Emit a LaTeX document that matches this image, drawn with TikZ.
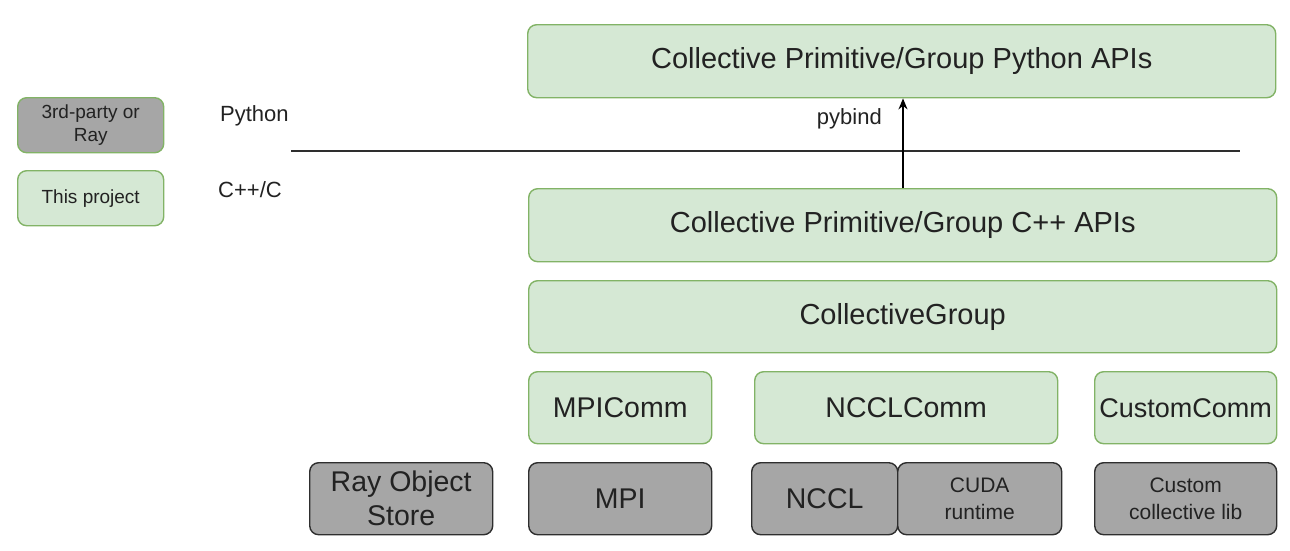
\documentclass[tikz,border=0pt]{standalone}
\usepackage{fontspec}
\setmainfont{Liberation Sans}
\usetikzlibrary{arrows.meta}
\definecolor{gfill}{HTML}{D5E8D4}
\definecolor{gdraw}{HTML}{82B366}
\definecolor{kfill}{HTML}{A6A6A6}
\definecolor{kdraw}{HTML}{2E2E2E}
\definecolor{txt}{HTML}{222222}
\tikzset{
  base/.style={rounded corners=9pt, line width=1.4pt, inner sep=0pt, align=center, text=txt, anchor=north west},
  green/.style={base, fill=gfill, draw=gdraw},
  gray/.style={base, fill=kfill, draw=kdraw},
  legend/.style={base, fill=kfill, draw=gdraw},
  big/.style={font=\fontsize{29}{34}\selectfont},
  mid/.style={font=\fontsize{28.5}{34}\selectfont},
  small/.style={font=\fontsize{21}{27}\selectfont},
  tiny/.style={font=\fontsize{19}{23}\selectfont},
  lab/.style={text=txt, inner sep=0pt, font=\fontsize{22}{26}\selectfont},
}
\begin{document}
\begin{tikzpicture}[x=1pt,y=-1pt]
\useasboundingbox (0,0) rectangle (1290,550);
% legend
\node[legend, tiny, minimum width=146pt, minimum height=55pt] (leg1) at (17,97) {3rd-party or\\Ray};
\node[green, tiny, minimum width=146pt, minimum height=55pt] (leg2) at (17,170) {This project};
\node[lab, anchor=west] (py) at (220,116) {Python};
\node[lab, anchor=west] (cc) at (218,190) {C++/C};
\coordinate (la) at (291,151);
\coordinate (lb) at (1240,151);
\draw[line width=1.4pt, kdraw] (la) -- (lb);
% layers
\node[green, big, minimum width=748pt, minimum height=73pt] (pyapi) at (527,24) {Collective Primitive/Group Python APIs};
\node[green, big, minimum width=748pt, minimum height=73pt] (cppapi) at (528,188) {Collective Primitive/Group C++ APIs};
\node[green, big, minimum width=748pt, minimum height=72pt] (cg) at (528,280) {CollectiveGroup};
\node[green, mid, minimum width=183pt, minimum height=72pt] (mpic) at (528,371) {MPIComm};
\node[green, mid, minimum width=303pt, minimum height=72pt] (ncclc) at (754,371) {NCCLComm};
\node[green, font=\fontsize{27}{32}\selectfont, minimum width=182pt, minimum height=72pt] (custc) at (1094,371) {CustomComm};
\node[gray, mid, minimum width=183pt, minimum height=72pt] (ros) at (309,462) {Ray Object\\Store};
\node[gray, mid, minimum width=183pt, minimum height=72pt] (mpi) at (528,462) {MPI};
\node[gray, mid, minimum width=146pt, minimum height=72pt] (nccl) at (751,462) {NCCL};
\node[gray, small, minimum width=164pt, minimum height=72pt] (cuda) at (897,462) {CUDA\\runtime};
\node[gray, small, minimum width=182pt, minimum height=72pt] (custl) at (1094,462) {Custom\\collective lib};
% arrow
\draw[line width=1.4pt, -{Stealth[length=11pt,width=9pt]}] (cppapi.north -| 903,0) -- (pyapi.south -| 903,0);
\node[lab, anchor=east] (pb) at (882,119) {pybind};
\end{tikzpicture}
\end{document}
